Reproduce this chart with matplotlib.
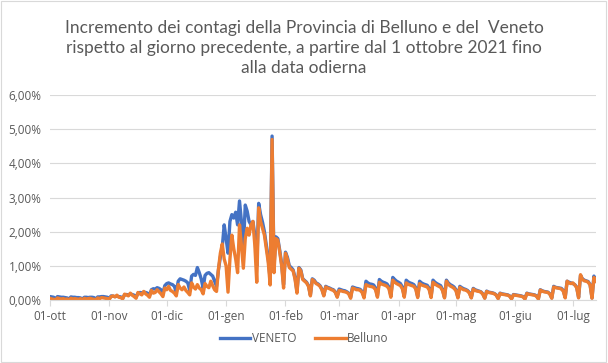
import pandas as pd
import matplotlib
matplotlib.use("Agg")
import matplotlib.pyplot as plt
from matplotlib.ticker import FuncFormatter
from matplotlib.patches import Rectangle

# daily increment (%) per month, Oct 2021 -> Jul 2022
veneto_ott = [0.10, 0.09, 0.08, 0.04, 0.10, 0.09, 0.08, 0.08, 0.07, 0.06, 0.03, 0.09, 0.08, 0.08,
              0.07, 0.07, 0.06, 0.03, 0.08, 0.08, 0.07, 0.08, 0.08, 0.07, 0.03, 0.09, 0.09, 0.10,
              0.10, 0.09, 0.08]
veneto_nov = [0.04, 0.12, 0.11, 0.10, 0.11, 0.10, 0.09, 0.05, 0.15, 0.16, 0.15, 0.17, 0.16, 0.14,
              0.08, 0.20, 0.22, 0.21, 0.23, 0.22, 0.20, 0.12, 0.30, 0.33, 0.32, 0.36, 0.34, 0.30,
              0.18, 0.42]
veneto_dic = [0.48, 0.50, 0.47, 0.45, 0.40, 0.22, 0.55, 0.62, 0.60, 0.58, 0.55, 0.50, 0.28, 0.70,
              0.75, 0.72, 0.95, 0.80, 0.62, 0.35, 0.72, 0.78, 0.80, 0.75, 0.70, 0.55, 0.40, 0.88,
              1.26, 1.55, 2.20]
veneto_gen = [1.80, 1.37, 2.30, 2.50, 2.40, 2.57, 2.20, 2.90, 2.30, 1.50, 2.78, 2.60, 2.30, 2.20,
              2.30, 1.90, 1.00, 2.83, 2.50, 2.28, 2.00, 1.60, 1.20, 0.60, 4.80, 1.00, 1.85, 1.80,
              1.45, 1.05, 0.45]
veneto_feb = [1.40, 1.25, 1.00, 0.95, 0.88, 0.65, 0.25, 0.95, 0.88, 0.62, 0.57, 0.52, 0.42, 0.15,
              0.62, 0.58, 0.50, 0.47, 0.42, 0.32, 0.14, 0.40, 0.37, 0.35, 0.32, 0.30, 0.24, 0.10]
veneto_mar = [0.32, 0.30, 0.28, 0.27, 0.24, 0.20, 0.08, 0.38, 0.36, 0.34, 0.33, 0.31, 0.25, 0.10,
              0.55, 0.50, 0.47, 0.46, 0.44, 0.35, 0.12, 0.60, 0.55, 0.52, 0.50, 0.47, 0.38, 0.13,
              0.66, 0.60, 0.55]
veneto_apr = [0.52, 0.48, 0.38, 0.12, 0.58, 0.53, 0.50, 0.48, 0.45, 0.36, 0.10, 0.55, 0.50, 0.47,
              0.45, 0.43, 0.34, 0.10, 0.58, 0.52, 0.48, 0.45, 0.42, 0.30, 0.08, 0.58, 0.50, 0.45,
              0.42, 0.38]
veneto_mag = [0.30, 0.08, 0.40, 0.36, 0.33, 0.31, 0.28, 0.22, 0.07, 0.34, 0.30, 0.28, 0.26, 0.24,
              0.18, 0.06, 0.26, 0.23, 0.22, 0.21, 0.19, 0.15, 0.05, 0.20, 0.18, 0.17, 0.16, 0.15,
              0.12, 0.04, 0.16]
veneto_giu = [0.15, 0.14, 0.13, 0.12, 0.10, 0.04, 0.20, 0.18, 0.17, 0.16, 0.15, 0.12, 0.04, 0.30,
              0.27, 0.25, 0.24, 0.23, 0.18, 0.06, 0.40, 0.37, 0.36, 0.35, 0.34, 0.28, 0.08, 0.55,
              0.52, 0.50]
veneto_lug = [0.48, 0.45, 0.38, 0.08, 0.72, 0.62, 0.58, 0.56, 0.54, 0.45, 0.06, 0.70, 0.55]

belluno_ott = [0.05, 0.03, 0.02, 0.01, 0.06, 0.04, 0.03, 0.04, 0.02, 0.03, 0.00, 0.05, 0.03, 0.04,
               0.03, 0.02, 0.04, 0.00, 0.05, 0.03, 0.04, 0.05, 0.03, 0.02, 0.01, 0.06, 0.04, 0.07,
               0.06, 0.05, 0.04]
belluno_nov = [0.02, 0.10, 0.12, 0.09, 0.14, 0.08, 0.07, 0.03, 0.17, 0.15, 0.12, 0.20, 0.14, 0.10,
               0.05, 0.22, 0.18, 0.15, 0.25, 0.18, 0.14, 0.08, 0.28, 0.20, 0.22, 0.30, 0.24, 0.18,
               0.10, 0.35]
belluno_dic = [0.30, 0.40, 0.28, 0.25, 0.20, 0.12, 0.45, 0.35, 0.30, 0.38, 0.28, 0.22, 0.15, 0.50,
               0.38, 0.32, 0.45, 0.35, 0.30, 0.18, 0.48, 0.40, 0.36, 0.55, 0.42, 0.30, 0.25, 0.90,
               1.37, 1.64, 1.20]
belluno_gen = [1.00, 0.23, 1.20, 1.90, 1.50, 1.20, 0.80, 2.20, 1.60, 0.93, 1.80, 2.10, 1.90, 2.20,
               2.30, 1.60, 0.52, 2.70, 2.30, 2.10, 1.90, 1.50, 1.10, 0.44, 4.70, 0.80, 1.80, 1.75,
               1.40, 1.00, 0.35]
belluno_feb = [1.37, 1.20, 0.95, 0.90, 0.85, 0.60, 0.20, 0.93, 0.85, 0.60, 0.55, 0.50, 0.40, 0.12,
               0.60, 0.55, 0.48, 0.45, 0.40, 0.30, 0.12, 0.38, 0.35, 0.33, 0.30, 0.28, 0.22, 0.08]
belluno_mar = [0.28, 0.27, 0.25, 0.24, 0.22, 0.18, 0.05, 0.35, 0.33, 0.30, 0.30, 0.28, 0.22, 0.06,
               0.45, 0.42, 0.40, 0.39, 0.37, 0.30, 0.08, 0.52, 0.47, 0.45, 0.43, 0.40, 0.33, 0.08,
               0.58, 0.52, 0.48]
belluno_apr = [0.45, 0.42, 0.33, 0.08, 0.50, 0.46, 0.44, 0.42, 0.40, 0.32, 0.07, 0.48, 0.44, 0.42,
               0.40, 0.38, 0.30, 0.07, 0.52, 0.47, 0.43, 0.40, 0.37, 0.27, 0.06, 0.55, 0.46, 0.41,
               0.38, 0.34]
belluno_mag = [0.27, 0.06, 0.37, 0.33, 0.30, 0.29, 0.26, 0.20, 0.06, 0.32, 0.28, 0.26, 0.25, 0.23,
               0.17, 0.05, 0.25, 0.22, 0.21, 0.20, 0.18, 0.14, 0.04, 0.19, 0.17, 0.16, 0.15, 0.14,
               0.11, 0.03, 0.15]
belluno_giu = [0.14, 0.13, 0.12, 0.11, 0.09, 0.03, 0.19, 0.17, 0.16, 0.15, 0.14, 0.11, 0.03, 0.29,
               0.26, 0.24, 0.23, 0.22, 0.17, 0.05, 0.38, 0.36, 0.35, 0.34, 0.32, 0.26, 0.06, 0.55,
               0.50, 0.48]
belluno_lug = [0.50, 0.44, 0.36, 0.06, 0.74, 0.60, 0.56, 0.55, 0.52, 0.44, 0.05, 0.66, 0.55]

month_labels = ["01-ott", "01-nov", "01-dic", "01-gen", "01-feb", "01-mar",
                "01-apr", "01-mag", "01-giu", "01-lug"]

veneto = (veneto_ott + veneto_nov + veneto_dic + veneto_gen + veneto_feb + veneto_mar
          + veneto_apr + veneto_mag + veneto_giu + veneto_lug)
belluno = (belluno_ott + belluno_nov + belluno_dic + belluno_gen + belluno_feb + belluno_mar
           + belluno_apr + belluno_mag + belluno_giu + belluno_lug)
dates = pd.date_range("2021-10-01", periods=len(veneto), freq="D")
month_starts = pd.date_range("2021-10-01", periods=len(month_labels), freq="MS")

grey = "#595959"
fig = plt.figure(figsize=(6.08, 3.63), dpi=100)
fig.patches.append(Rectangle((0.002, 0.003), 0.995, 0.994, transform=fig.transFigure,
                             fill=False, edgecolor="#D9D9D9", linewidth=0.8))
ax = fig.add_axes([0.082, 0.1736, 0.898, 0.5644])

ax.plot(dates, veneto, color="#4472C4", linewidth=2.4, label="VENETO", solid_joinstyle="round")
ax.plot(dates, belluno, color="#ED7D31", linewidth=2.4, label="Belluno", solid_joinstyle="round")

ax.set_ylim(0, 6)
ax.set_yticks(range(0, 7))
ax.yaxis.set_major_formatter(FuncFormatter(lambda v, p: f"{v:.2f}%".replace(".", ",")))
ax.set_xlim(dates[0], dates[-1])
ax.set_xticks(month_starts)
ax.set_xticklabels(month_labels)

ax.grid(axis="y", color="#D9D9D9", linewidth=0.8)
ax.set_axisbelow(True)
for s in ["top", "right", "left"]:
    ax.spines[s].set_visible(False)
ax.spines["bottom"].set_color("#D9D9D9")
ax.tick_params(axis="y", length=0, labelsize=8.5, labelcolor=grey, pad=6)
ax.tick_params(axis="x", length=4, color="#D9D9D9", labelsize=8.5, labelcolor=grey, pad=3)
for lab in ax.get_xticklabels() + ax.get_yticklabels():
    lab.set_family("Open Sans")

fig.text(0.5, 0.945, "Incremento dei contagi della Provincia di Belluno e del  Veneto\n"
         "rispetto al giorno precedente, a partire dal 1 ottobre 2021 fino\nalla data odierna",
         ha="center", va="top", fontsize=12.5, color=grey, family="Lato", linespacing=1.3)

fig.legend(loc="lower center", bbox_to_anchor=(0.5, 0.02), ncol=2, frameon=False,
           prop={"family": "Open Sans", "size": 8.5}, labelcolor=grey,
           handlelength=2.6, handletextpad=0.1, columnspacing=1.6)

fig.savefig("out.png", dpi=100)
